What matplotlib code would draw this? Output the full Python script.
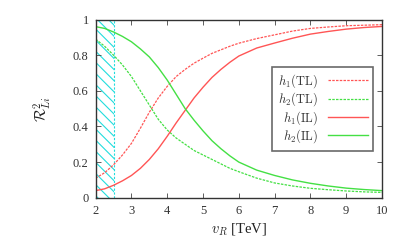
import matplotlib
matplotlib.use("Agg")
import matplotlib.pyplot as plt

plt.rcParams['font.family'] = ['Liberation Serif', 'DejaVu Serif']
plt.rcParams['mathtext.fontset'] = 'cm'
plt.rcParams['hatch.linewidth'] = 0.8

vR = [2, 2.25, 2.5, 2.75, 3, 3.25, 3.5, 3.75, 4, 4.25, 4.5, 4.75, 5, 5.25, 5.5, 5.75,
      6, 6.5, 7, 7.5, 8, 8.5, 9, 9.5, 10]
h1_TL = [0.11, 0.14, 0.185, 0.24, 0.305, 0.39, 0.48, 0.56, 0.625, 0.68, 0.72, 0.755,
         0.783, 0.81, 0.83, 0.85, 0.867, 0.893, 0.914, 0.935, 0.95, 0.958, 0.965, 0.968, 0.971]
h2_TL = [0.89, 0.85, 0.80, 0.745, 0.68, 0.6, 0.52, 0.44, 0.38, 0.335, 0.30, 0.265,
         0.24, 0.215, 0.19, 0.165, 0.146, 0.11, 0.083, 0.066, 0.053, 0.045, 0.038, 0.033, 0.03]
h1_IL = [0.04, 0.05, 0.07, 0.095, 0.125, 0.165, 0.215, 0.275, 0.345, 0.42, 0.49, 0.56,
         0.62, 0.675, 0.72, 0.76, 0.795, 0.84, 0.868, 0.895, 0.918, 0.933, 0.946, 0.955, 0.961]
h2_IL = [0.96, 0.95, 0.93, 0.905, 0.875, 0.835, 0.79, 0.73, 0.66, 0.58, 0.50, 0.435,
         0.375, 0.32, 0.275, 0.235, 0.2, 0.155, 0.125, 0.1, 0.081, 0.066, 0.054, 0.046, 0.04]
excluded = (2.0, 2.5)

xticks = [2, 3, 4, 5, 6, 7, 8, 9, 10]
yticks = [0, 0.2, 0.4, 0.6, 0.8, 1]
ytick_labels = ['0', '0.2', '0.4', '0.6', '0.8', '1']

red = '#ff5555'
green = '#44e044'

fig = plt.figure(figsize=(4.07, 2.5), dpi=100)
ax = fig.add_axes([0.235, 0.209, 0.7036, 0.713])

ax.axvspan(excluded[0], excluded[1], facecolor='none', edgecolor='#22dddd',
           hatch='\\\\\\', linewidth=0)
ax.axvline(excluded[1], color='#22dddd', lw=0.8, ls=(0, (2, 1.5)))

ax.plot(vR, h1_TL, color=red, lw=0.9, ls=(0, (2, 1)), label=r'$h_1(\mathrm{TL})$')
ax.plot(vR, h2_TL, color=green, lw=0.9, ls=(0, (2, 1)), label=r'$h_2(\mathrm{TL})$')
ax.plot(vR, h1_IL, color=red, lw=1.0, label=r'$h_1(\mathrm{IL})$')
ax.plot(vR, h2_IL, color=green, lw=1.0, label=r'$h_2(\mathrm{IL})$')

ax.set_xlim(2, 10)
ax.set_ylim(0, 1)
ax.set_xticks(xticks)
ax.set_xticklabels([str(t) for t in xticks])
ax.set_yticks(yticks)
ax.set_yticklabels(ytick_labels)
ax.tick_params(direction='in', length=3.5, width=0.6, color='#444444',
               top=True, right=True, labelsize=9, pad=5, labelcolor='#333333')
for s in ax.spines.values():
    s.set_color('#333333')
    s.set_linewidth(1.0)

ax.set_xlabel(r'$v_R$ [TeV]', fontsize=10.5, color='#222222', labelpad=3)
ax.set_ylabel(r'$\mathcal{R}^2_{Li}$', fontsize=11, color='#222222', labelpad=14)

leg = ax.legend(loc='center right', bbox_to_anchor=(0.97, 0.5), markerfirst=False,
                fontsize=9, frameon=True, fancybox=False, handlelength=3.2,
                handletextpad=0.8, labelspacing=0.05, borderpad=0.45, borderaxespad=0)
leg.get_frame().set_edgecolor('#444444')
leg.get_frame().set_linewidth(1.2)
for t in leg.get_texts():
    t.set_ha('right')
    t.set_color('#333333')

fig.savefig('out.png', dpi=100)
